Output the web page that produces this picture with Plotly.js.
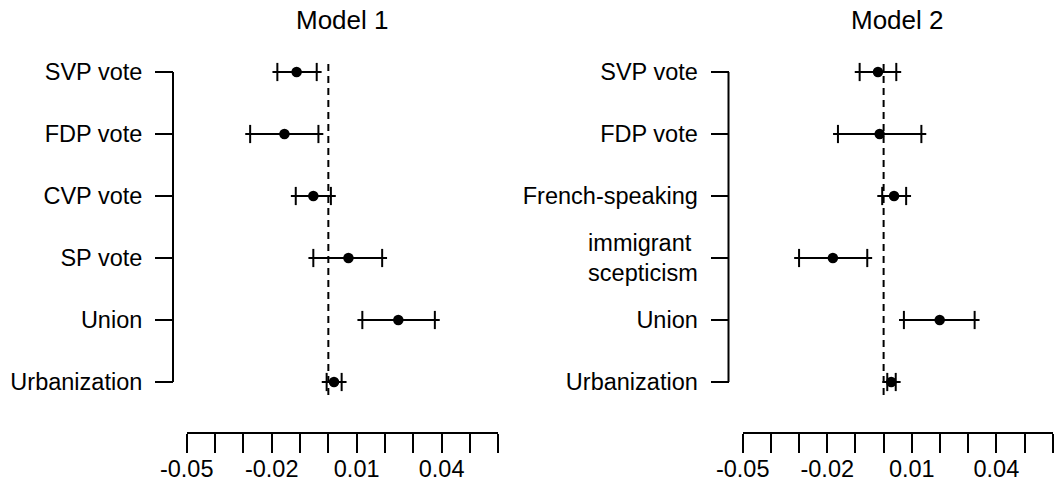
<!DOCTYPE html>
<html>
<head>
<meta charset="utf-8">
<script src="https://cdn.plot.ly/plotly-3.0.1.min.js"></script>
<style>html,body{margin:0;padding:0;background:#fff;}#chart{width:1059px;height:483px;}</style>
</head>
<body>
<div id="chart"></div>
<script>
// ---- data ----
const titles = ["Model 1", "Model 2"];

const labels1 = ["SVP vote", "FDP vote", "CVP vote", "SP vote", "Union", "Urbanization"];
const est1 = [-0.0112, -0.0155, -0.0053, 0.0071, 0.0247, 0.0020];
const lo1  = [-0.0180, -0.0276, -0.0115, -0.0053, 0.0120, -0.0006];
const hi1  = [-0.0041, -0.0035, 0.0009, 0.0190, 0.0376, 0.0047];

const labels2 = ["SVP vote", "FDP vote", "French-speaking", "immigrant\u00a0<br>scepticism", "Union", "Urbanization"];
const est2 = [-0.0020, -0.0014, 0.0037, -0.0180, 0.0199, 0.0027];
const lo2  = [-0.0085, -0.0162, -0.0005, -0.0300, 0.0072, 0.0013];
const hi2  = [0.0045, 0.0134, 0.0080, -0.0058, 0.0323, 0.0043];

const rows = [0, 1, 2, 3, 4, 5];
const xTickVals = [-0.05, -0.04, -0.03, -0.02, -0.01, 0, 0.01, 0.02, 0.03, 0.04, 0.05, 0.06];
const xTickText = ["-0.05", "", "", "-0.02", "", "", "0.01", "", "", "0.04", "", ""];

// ---- layout helpers (pixels -> paper) ----
const W = 1059, H = 483;
const px = v => v / W;
const py = v => (H - v) / H;
const FONT = "Liberation Sans, Arial, Helvetica, sans-serif";

function panelTraces(lo, est, hi, xa, ya) {
  const lx = [], ly = [];
  rows.forEach((r, i) => { lx.push(lo[i], hi[i], null); ly.push(r, r, null); });
  const ends = lo.concat(hi);
  const endsY = rows.concat(rows);
  return [
    {type: "scatter", mode: "lines", x: lx, y: ly, xaxis: xa, yaxis: ya,
     line: {color: "black", width: 2}, cliponaxis: false, hoverinfo: "skip"},
    {type: "scatter", mode: "markers", x: ends, y: endsY, xaxis: xa, yaxis: ya,
     marker: {symbol: "line-ns", size: 13, color: "black", line: {color: "black", width: 2}},
     cliponaxis: false, hoverinfo: "skip"},
    {type: "scatter", mode: "markers", x: ends, y: endsY, xaxis: xa, yaxis: ya,
     marker: {symbol: "line-ew", size: 7, color: "black", line: {color: "black", width: 2}},
     cliponaxis: false, hoverinfo: "skip"},
    {type: "scatter", mode: "markers", x: est, y: rows, xaxis: xa, yaxis: ya,
     marker: {symbol: "circle", size: 10.5, color: "black", line: {width: 0}},
     cliponaxis: false, hoverinfo: "skip"}
  ];
}

const data = panelTraces(lo1, est1, hi1, "x", "y").concat(panelTraces(lo2, est2, hi2, "x2", "y2"));

const yDomain = [py(394.4), py(59.6)];

function xAxis(d0, d1) {
  return {
    domain: [px(d0), px(d1)], range: [-0.05, 0.06], anchor: "free", position: py(432.7), side: "bottom",
    tickmode: "array", tickvals: xTickVals, ticktext: xTickText,
    ticks: "outside", ticklen: 19, tickwidth: 2, tickcolor: "black", ticklabelstandoff: -4,
    showline: true, linewidth: 2, linecolor: "black",
    showgrid: false, zeroline: false, fixedrange: true,
    tickfont: {family: FONT, size: 23.5, color: "black"}
  };
}
function yAxis(xpos, labels) {
  return {
    domain: yDomain, range: [5.2, -0.2], anchor: "free", position: px(xpos),
    tickmode: "array", tickvals: rows, ticktext: labels,
    ticks: "outside", ticklen: 18, tickwidth: 2, tickcolor: "black", ticklabelstandoff: 8,
    showline: false, showgrid: false, zeroline: false, fixedrange: true,
    tickfont: {family: FONT, size: 23.5, color: "black"}
  };
}

const dash = (xr) => ({type: "line", xref: xr, yref: "paper", x0: 0, x1: 0, y0: py(395), y1: py(60),
  line: {color: "black", width: 2, dash: "7px,5px"}});
const yline = (xpos, yr) => ({type: "line", xref: "paper", yref: yr, x0: px(xpos), x1: px(xpos), y0: 0, y1: 5,
  line: {color: "black", width: 2}});

const layout = {
  width: W, height: H, autosize: false,
  margin: {l: 0, r: 0, t: 0, b: 0, pad: 0},
  paper_bgcolor: "white", plot_bgcolor: "white",
  showlegend: false,
  font: {family: FONT, color: "black"},
  xaxis: xAxis(186.7, 498.3),
  yaxis: yAxis(173, labels1),
  xaxis2: xAxis(742.7, 1052.7),
  yaxis2: yAxis(728.5, labels2),
  shapes: [dash("x"), dash("x2"), yline(173, "y"), yline(728.5, "y2")],
  annotations: [
    {text: titles[0], xref: "paper", yref: "paper", x: px(342.5), y: py(19.5), xanchor: "center", yanchor: "middle",
     showarrow: false, font: {family: FONT, size: 26, color: "black"}},
    {text: titles[1], xref: "paper", yref: "paper", x: px(897.7), y: py(19.5), xanchor: "center", yanchor: "middle",
     showarrow: false, font: {family: FONT, size: 26, color: "black"}}
  ]
};

Plotly.newPlot("chart", data, layout, {staticPlot: true, displayModeBar: false});
</script>
</body>
</html>
